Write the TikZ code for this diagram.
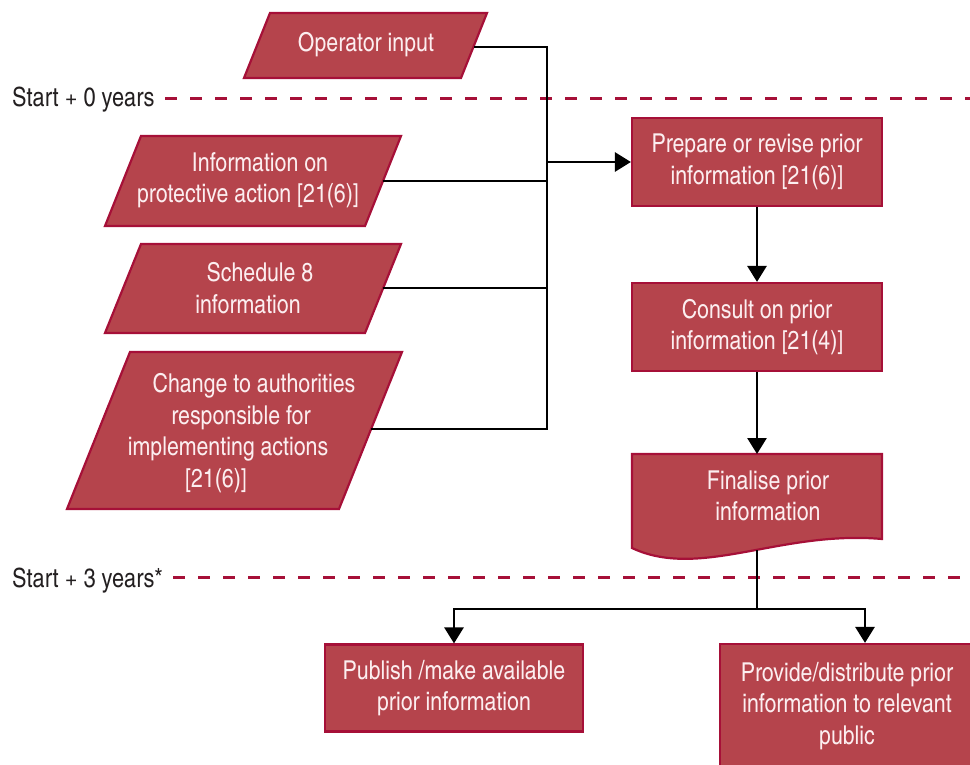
\documentclass[tikz,border=0pt]{standalone}
\usepackage{fontspec}
\setmainfont{TeX Gyre Heros Cn}
\usetikzlibrary{arrows.meta}
\definecolor{boxfill}{RGB}{181,68,76}
\definecolor{boxline}{RGB}{166,16,56}
\definecolor{boxtext}{RGB}{252,238,240}
\definecolor{labeltext}{RGB}{35,31,32}
\begin{document}
\begin{tikzpicture}[x=1pt,y=-1pt,
  box/.style={draw=boxline, fill=boxfill, line width=2.2pt},
  txt/.style={text=boxtext, font=\fontsize{26}{31.5}\selectfont, align=center, inner sep=0pt},
  rbox/.style={box, txt, minimum width=250pt, minimum height=88pt},
  conn/.style={line width=2.8pt, black},
  arr/.style={conn, -{Triangle[width=19pt,length=16pt]}},
  timeline/.style={draw=boxline, line width=3pt, dash pattern=on 12pt off 13pt},
  lbl/.style={text=labeltext, font=\fontsize{26.5}{31.5}\selectfont, inner sep=0pt}]
\useasboundingbox (0,0) rectangle (970,765);

% time lines
\node[lbl, anchor=base west] (s0) at (12,107) {Start + 0 years};
\draw[timeline] (165,99) -- (972,99);
\node[lbl, anchor=base west] (s3) at (12,587) {Start + 3 years*};
\draw[timeline] (173,577) -- (972,577);

% input parallelograms
\draw[box] (270,13) -- (487,13) -- (461,78) -- (244,78) -- cycle;
\node[txt] (op) at (366,45) {Operator input};

\draw[box] (141,136) -- (401,136) -- (365,226) -- (105,226) -- cycle;
\node[txt] (info) at (254,180) {\hspace*{12pt}Information on\\\hspace*{-12pt}protective action [21(6)]};

\draw[box] (141,244) -- (401,244) -- (365,333) -- (105,333) -- cycle;
\node[txt] (sched) at (254,288) {\hspace*{12pt}Schedule 8\\\hspace*{-12pt}information};

\draw[box] (130,352) -- (402,352) -- (339,509) -- (67,509) -- cycle;
\node[txt] (chg) at (235,433) {\hspace*{38pt}Change to authorities\\\hspace*{12pt}responsible for\\\hspace*{-14pt}implementing actions\\\hspace*{-38pt}[21(6)]};

% process boxes
\node[rbox] (prep) at (757,162) {Prepare or revise prior\\information [21(6)]};
\node[rbox] (cons) at (757,327) {Consult on prior\\information [21(4)]};

\draw[box] (632,454) -- (882,454) -- (882,539) .. controls (780,530) and (700,580) .. (632,548) -- cycle;
\node[txt] (fin) at (768,496) {Finalise prior\\information};
\coordinate (finT) at (757,454);
\coordinate (finB) at (757,550);

\node[rbox, minimum width=258pt, minimum height=87pt] (pub) at (454,688) {Publish /make available\\prior information};
\node[rbox, minimum width=254pt, minimum height=124pt] (prov) at (847,706) {Provide/distribute prior\\information to relevant\\public};

% connectors
\coordinate (opR) at (474,47);
\coordinate (infR) at (383,181);
\coordinate (schR) at (383,288);
\coordinate (chgR) at (371,429);
\coordinate (tkT) at (547,47);
\coordinate (tkB) at (547,429);
\coordinate (tkJ) at (547,162);
\coordinate (br) at (757,609);

\draw[conn] (opR) -- (tkT) -- (tkB) -- (chgR);
\draw[conn] (infR) -- (infR -| tkT);
\draw[conn] (schR) -- (schR -| tkT);
\draw[arr] (tkJ) -- (prep.west);
\draw[arr] (prep.south) -- (cons.north);
\draw[arr] (cons.south) -- (finT);
\draw[conn] (finB) -- (br);
\draw[arr] (br) -| (pub.north);
\draw[arr] (br) -| ([xshift=18pt]prov.north);
\end{tikzpicture}
\end{document}
